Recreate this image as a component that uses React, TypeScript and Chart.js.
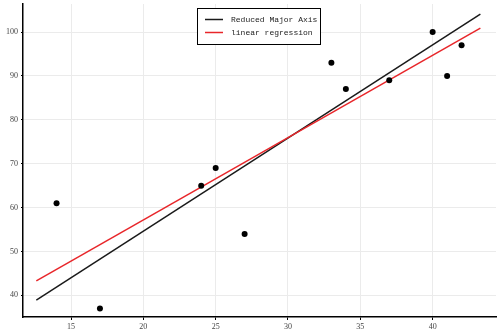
import React, { useEffect, useRef } from "react";
import { Chart, registerables } from "chart.js";

Chart.register(...registerables);

const pointX = [14, 17, 24, 25, 27, 33, 34, 37, 40, 41, 42];
const pointY = [61, 37, 65, 69, 54, 93, 87, 89, 100, 90, 97];

const rmaX = [12.6, 43.3];
const rmaY = [38.9, 104.1];
const regX = [12.6, 43.3];
const regY = [43.3, 100.9];

const xTicks = [15, 20, 25, 30, 35, 40];
const yTicks = [40, 50, 60, 70, 80, 90, 100];

const seriesLabels = ["Reduced Major Axis", "linear regression"];

const legendPlugin = {
  id: "boxLegend",
  afterDraw(chart: any) {
    const ctx = chart.ctx;
    const items = chart.data.datasets.filter((d: any) => d.label);
    const x0 = 197.5, y0 = 8.5, w = 123, h = 36;
    ctx.save();
    ctx.fillStyle = "#ffffff";
    ctx.fillRect(x0, y0, w, h);
    ctx.strokeStyle = "#000000";
    ctx.lineWidth = 1;
    ctx.strokeRect(x0, y0, w, h);
    ctx.font = "8px 'Liberation Mono', monospace";
    ctx.textBaseline = "middle";
    items.forEach((d: any, i: number) => {
      const y = 19.5 + i * 13;
      ctx.strokeStyle = d.borderColor;
      ctx.lineWidth = 1.5;
      ctx.beginPath();
      ctx.moveTo(205, y);
      ctx.lineTo(223, y);
      ctx.stroke();
      ctx.fillStyle = "#222222";
      ctx.fillText(d.label, 231, y);
    });
    ctx.restore();
  },
};

export default function App() {
  const ref = useRef<HTMLCanvasElement>(null);
  useEffect(() => {
    if (!ref.current) return;
    const chart = new Chart(ref.current, {
      type: "scatter",
      data: {
        datasets: [
          {
            label: seriesLabels[0],
            data: rmaX.map((x, i) => ({ x, y: rmaY[i] })),
            showLine: true,
            borderColor: "#1a1a1a",
            borderWidth: 1.5,
            pointRadius: 0,
            order: 2,
          },
          {
            label: seriesLabels[1],
            data: regX.map((x, i) => ({ x, y: regY[i] })),
            showLine: true,
            borderColor: "#e8262a",
            borderWidth: 1.5,
            pointRadius: 0,
            order: 1,
          },
          {
            label: "",
            data: pointX.map((x, i) => ({ x, y: pointY[i] })),
            backgroundColor: "#000000",
            borderColor: "#000000",
            pointRadius: 3,
            borderWidth: 0,
            order: 0,
          },
        ],
      },
      options: {
        animation: false,
        responsive: false,
        layout: { padding: { top: 3, right: 2, left: 0, bottom: 0 } },
        plugins: { legend: { display: false }, tooltip: { enabled: false } },
        scales: {
          x: {
            type: "linear",
            min: 11.68,
            max: 44.38,
            afterBuildTicks: (s: any) => {
              s.ticks = xTicks.map((v) => ({ value: v }));
            },
            afterFit: (s: any) => {
              s.height = 16;
              s.paddingLeft = 0;
              s.paddingRight = 0;
            },
            ticks: {
              font: { family: "'Liberation Serif', serif", size: 8 },
              color: "#444444",
              padding: 2,
              maxRotation: 0,
            },
            grid: { color: "#ebebeb", lineWidth: 1, tickLength: 3, tickColor: "#000" },
            border: { color: "#000000", width: 1.5 },
          },
          y: {
            type: "linear",
            min: 35.06,
            max: 106.4,
            afterBuildTicks: (s: any) => {
              s.ticks = yTicks.map((v) => ({ value: v }));
            },
            afterFit: (s: any) => {
              s.width = 23;
              s.paddingTop = 0;
              s.paddingBottom = 0;
            },
            ticks: {
              font: { family: "'Liberation Serif', serif", size: 8 },
              color: "#444444",
              padding: 3,
            },
            grid: { color: "#ebebeb", lineWidth: 1, tickLength: 2, tickColor: "#000" },
            border: { color: "#000000", width: 1.5 },
          },
        },
      },
      plugins: [legendPlugin],
    });
    return () => chart.destroy();
  }, []);
  return (
    <div style={{ position: "fixed", left: 0, top: 0, width: 500, height: 333, background: "#fff" }}>
      <canvas ref={ref} width={500} height={333} style={{ display: "block" }} />
    </div>
  );
}
